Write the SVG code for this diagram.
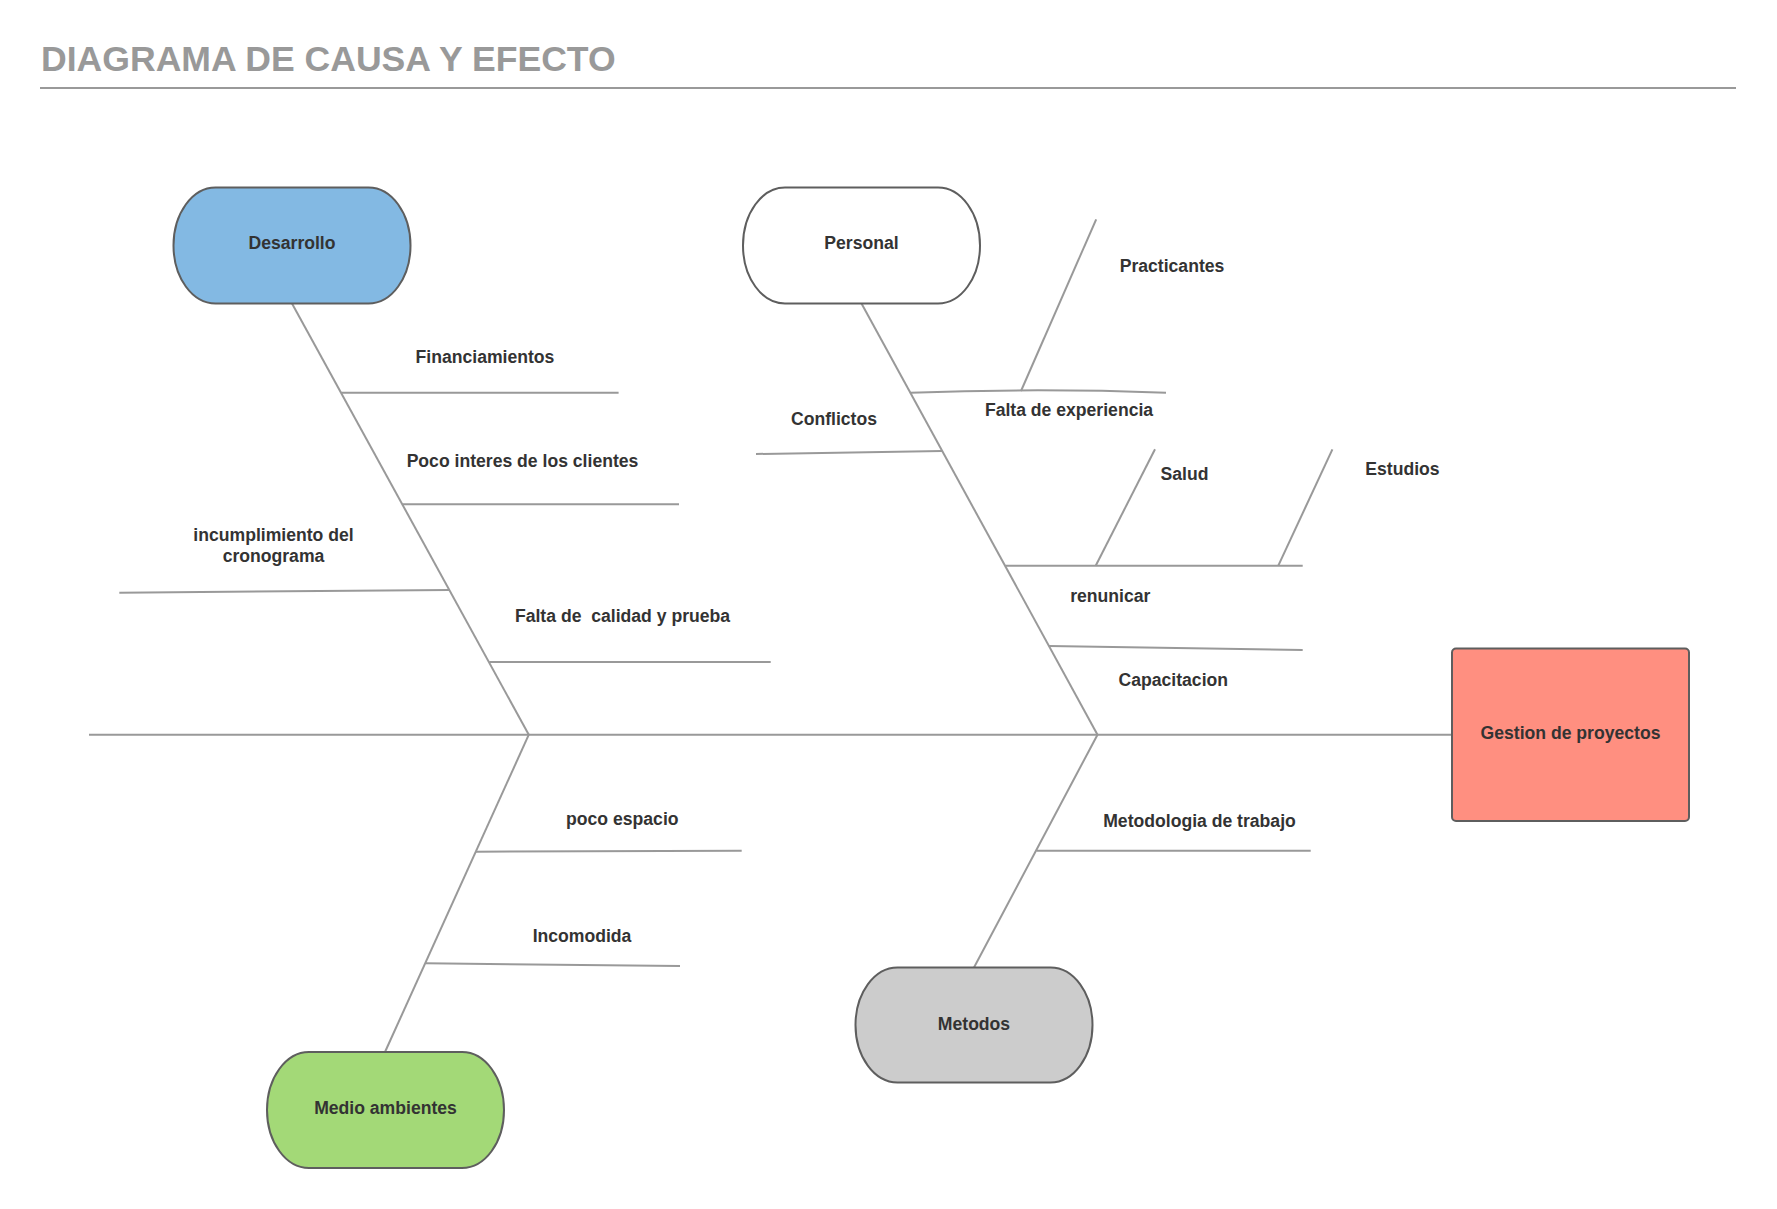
<svg xmlns="http://www.w3.org/2000/svg" width="1777" height="1209" viewBox="0 0 1777 1209">
<style>
.ln{stroke:#999999;stroke-width:2;fill:none;stroke-linecap:butt}
.shape{stroke:#5e5e5e;stroke-width:2}
.lbl{font-family:"Liberation Sans",Arial,sans-serif;font-weight:bold;font-size:17.6px;fill:#333333;text-anchor:middle;white-space:pre}
.title{font-family:"Liberation Sans",Arial,sans-serif;font-weight:bold;font-size:35.6px;fill:#999999}
</style>
<rect x="0" y="0" width="1777" height="1209" fill="#ffffff"/>
<g id="title">
<text class="title" x="41" y="71">DIAGRAMA DE CAUSA Y EFECTO</text>
<line class="ln" x1="40" y1="88" x2="1736" y2="88"/>
</g>
<g id="connectors">
<line class="ln" x1="89" y1="734.7" x2="1452" y2="734.7"/>
<line class="ln" x1="292" y1="303.5" x2="528.8" y2="734.7"/>
<line class="ln" x1="861.5" y1="303.5" x2="1097.5" y2="734.7"/>
<line class="ln" x1="528.8" y1="734.7" x2="385" y2="1052"/>
<line class="ln" x1="1097.5" y1="734.7" x2="974" y2="967.5"/>
<line class="ln" x1="341.2" y1="392.7" x2="618.6" y2="392.7"/>
<line class="ln" x1="402.4" y1="504.3" x2="679" y2="504.3"/>
<line class="ln" x1="119.3" y1="592.7" x2="449.3" y2="590"/>
<line class="ln" x1="489.3" y1="662" x2="770.7" y2="662"/>
<path class="ln" d="M910.5,392.7 Q1038,388 1166,392.7"/>
<line class="ln" x1="1021" y1="391" x2="1096.2" y2="219.3"/>
<line class="ln" x1="756" y1="454" x2="942" y2="451"/>
<line class="ln" x1="1005.5" y1="565.7" x2="1302.7" y2="565.7"/>
<line class="ln" x1="1095.7" y1="565.7" x2="1155" y2="449.3"/>
<line class="ln" x1="1278.3" y1="565.7" x2="1332.4" y2="449.3"/>
<line class="ln" x1="1049" y1="646" x2="1302.7" y2="650"/>
<line class="ln" x1="476" y1="851.7" x2="741.7" y2="850.7"/>
<line class="ln" x1="425.5" y1="963.3" x2="680" y2="966"/>
<line class="ln" x1="1036.5" y1="850.7" x2="1310.7" y2="850.7"/>
</g>
<g id="desarrollo">
<rect class="shape" x="173.5" y="187.5" width="237" height="116" rx="42" ry="58" fill="#83b9e3"/>
<text class="lbl" x="292" y="249">Desarrollo</text>
</g>
<g id="personal">
<rect class="shape" x="743" y="187.5" width="237" height="116" rx="42" ry="58" fill="#ffffff"/>
<text class="lbl" x="861.5" y="249">Personal</text>
</g>
<g id="medio-ambientes">
<rect class="shape" x="267" y="1052" width="237" height="116" rx="42" ry="58" fill="#a3d977"/>
<text class="lbl" x="385.5" y="1113.5">Medio ambientes</text>
</g>
<g id="metodos">
<rect class="shape" x="855.5" y="967.5" width="237" height="115" rx="42" ry="57.5" fill="#cccccc"/>
<text class="lbl" x="974" y="1029.5">Metodos</text>
</g>
<g id="gestion">
<rect class="shape" x="1452" y="648.5" width="237" height="172.5" rx="4" ry="4" fill="#ff8f80"/>
<text class="lbl" x="1570.5" y="738.5">Gestion de proyectos</text>
</g>
<g id="labels">
<text class="lbl" x="485" y="362.7">Financiamientos</text>
<text class="lbl" x="522.5" y="466.7">Poco interes de los clientes</text>
<text class="lbl" x="273.5" y="540.7">incumplimiento del</text>
<text class="lbl" x="273.5" y="561.7">cronograma</text>
<text class="lbl" x="622.5" y="621.7">Falta de  calidad y prueba</text>
<text class="lbl" x="834" y="425">Conflictos</text>
<text class="lbl" x="1069" y="416">Falta de experiencia</text>
<text class="lbl" x="1172" y="271.7">Practicantes</text>
<text class="lbl" x="1184.5" y="480">Salud</text>
<text class="lbl" x="1402.5" y="475">Estudios</text>
<text class="lbl" x="1110.3" y="601.7">renunicar</text>
<text class="lbl" x="1173.3" y="686">Capacitacion</text>
<text class="lbl" x="622.3" y="825">poco espacio</text>
<text class="lbl" x="582" y="942.3">Incomodida</text>
<text class="lbl" x="1199.5" y="827.3">Metodologia de trabajo</text>
</g>
</svg>
